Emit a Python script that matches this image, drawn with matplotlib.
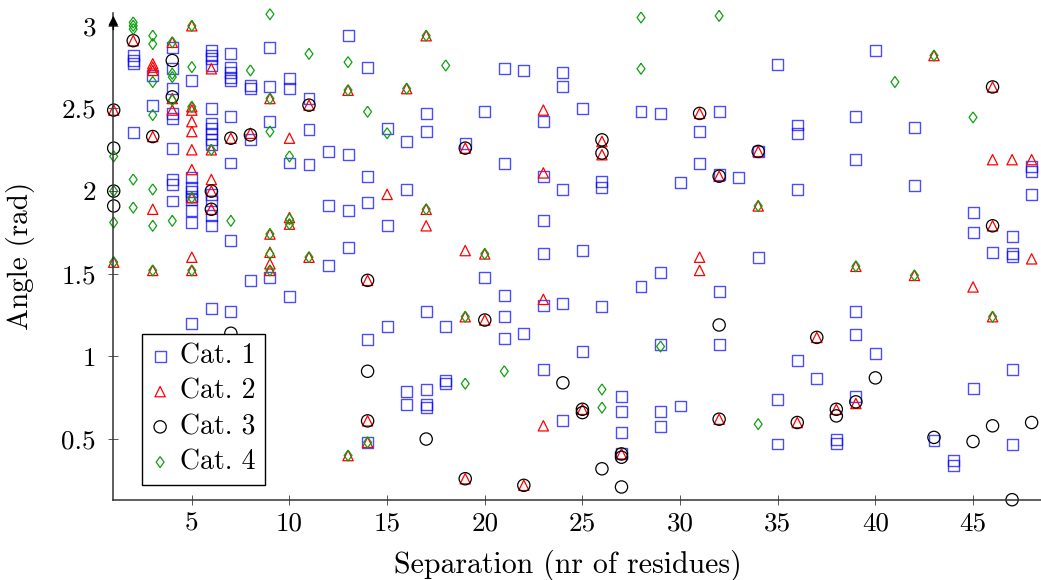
import matplotlib.pyplot as plt

plt.rcParams['font.family'] = 'cmr10'
plt.rcParams['mathtext.fontset'] = 'cm'
plt.rcParams['axes.formatter.use_mathtext'] = True

# Cat. 1 (squares)
cat1_sep = [2, 2, 2, 2,
            3, 3,
            4, 4, 4, 4, 4, 4, 4, 4, 4,
            5, 5, 5, 5, 5, 5, 5, 5, 5,
            6, 6, 6, 6, 6, 6, 6, 6, 6, 6, 6, 6, 6, 6, 6,
            7, 7, 7, 7, 7, 7, 7, 7, 7,
            8, 8, 8, 8,
            9, 9, 9, 9,
            10, 10, 10, 10,
            11, 11, 11,
            12, 12, 12,
            13, 13, 13, 13,
            14, 14, 14, 14, 14,
            15, 15, 15,
            16, 16, 16, 16,
            17, 17, 17, 17, 17, 17,
            18, 18, 18,
            19,
            20, 20,
            21, 21, 21, 21, 21,
            22, 22,
            23, 23, 23, 23, 23, 23,
            24, 24, 24, 24, 24,
            25, 25, 25,
            26, 26, 26,
            27, 27, 27, 27,
            28, 28,
            29, 29, 29, 29, 29,
            30, 30,
            31, 31,
            32, 32, 32, 32,
            33,
            34, 34,
            35, 35, 35,
            36, 36, 36, 36,
            37,
            38, 38,
            39, 39, 39, 39, 39,
            40, 40,
            42, 42,
            43,
            44, 44,
            45, 45, 45,
            46,
            47, 47, 47, 47, 47,
            48, 48, 48]
cat1_ang = [2.82, 2.79, 2.77, 2.355,
            2.70, 2.52,
            2.87, 2.74, 2.62, 2.47, 2.44, 2.26, 2.07, 2.04, 1.94,
            2.67, 2.08, 2.02, 2.0, 1.97, 1.95, 1.88, 1.81, 1.20,
            2.85, 2.82, 2.80, 2.76, 2.50, 2.41, 2.38, 2.35, 2.31, 2.28, 1.98, 1.94, 1.85, 1.79, 1.29,
            2.83, 2.75, 2.72, 2.69, 2.67, 2.45, 2.17, 1.70, 1.27,
            2.64, 2.62, 2.31, 1.46,
            2.87, 2.63, 2.42, 1.48,
            2.68, 2.62, 2.17, 1.36,
            2.56, 2.37, 2.16,
            2.24, 1.91, 1.55,
            2.94, 2.22, 1.88, 1.66,
            2.75, 2.09, 1.93, 1.10, 0.48,
            2.38, 1.79, 1.18,
            2.30, 2.01, 0.79, 0.71,
            2.47, 2.36, 1.27, 0.80, 0.71, 0.69,
            1.18, 0.855, 0.835,
            2.29,
            2.48, 1.48,
            2.74, 2.165, 1.37, 1.24, 1.11,
            2.73, 1.14,
            2.42, 2.09, 1.82, 1.62, 1.31, 0.92,
            2.72, 2.63, 2.01, 1.32, 0.61,
            2.50, 1.64, 1.03,
            2.06, 2.02, 1.30,
            0.76, 0.665, 0.54, 0.41,
            2.48, 1.42,
            2.47, 1.51, 1.07, 0.665, 0.575,
            2.05, 0.70,
            2.36, 2.165,
            2.48, 2.10, 1.39, 1.07,
            2.08,
            2.24, 1.60,
            2.765, 0.74, 0.47,
            2.40, 2.35, 2.01, 0.975,
            0.865,
            0.50, 0.475,
            2.45, 2.19, 1.27, 1.13, 0.76,
            2.85, 1.02,
            2.385, 2.035,
            0.49,
            0.37, 0.34,
            1.87, 1.75, 0.805,
            1.63,
            1.725, 1.625, 1.605, 0.92, 0.466,
            2.15, 2.12, 1.98]

# Cat. 2 (triangles)
cat2_sep = [1, 1, 2, 3, 3, 3, 3, 3, 3, 4, 4, 4,
            5, 5, 5, 5, 5, 5, 5, 5, 5, 5,
            6, 6, 6, 6, 6, 7, 8, 9, 9, 9, 9, 9, 10, 10, 10, 11, 11,
            13, 13, 14, 14, 14, 15, 16, 17, 17, 17, 19, 19, 19, 19,
            20, 20, 22, 23, 23, 23, 23, 25, 26, 26, 27, 31, 31, 31,
            32, 32, 34, 34, 36, 37, 38, 39, 39, 42, 43, 45,
            46, 46, 46, 46, 47, 48, 48]
cat2_ang = [2.49, 1.57, 2.91, 2.77, 2.75, 2.73, 2.33, 1.89, 1.52, 2.90, 2.56, 2.49,
            3.0, 2.51, 2.49, 2.42, 2.36, 2.25, 2.13, 1.96, 1.60, 1.52,
            2.74, 2.25, 2.07, 2.0, 1.89, 2.32, 2.35, 2.56, 1.74, 1.63, 1.56, 1.52, 2.32, 1.84, 1.80, 2.52, 1.60,
            2.61, 0.40, 1.46, 0.61, 0.48, 1.98, 2.62, 2.94, 1.89, 1.79, 2.26, 1.64, 1.24, 0.26,
            1.62, 1.22, 0.22, 2.49, 2.11, 1.345, 0.58, 0.68, 2.30, 2.22, 0.41, 2.47, 1.60, 1.52,
            2.09, 0.62, 2.24, 1.91, 0.60, 1.115, 0.68, 1.545, 0.715, 1.49, 2.82, 1.42,
            2.63, 2.19, 1.79, 1.24, 2.19, 2.19, 1.59]

# Cat. 3 (circles)
cat3_sep = [1, 1, 1, 1, 2, 3, 4, 4, 6, 6, 7, 7, 8, 11, 14, 14, 14, 17, 19, 19,
            20, 22, 24, 25, 25, 26, 26, 26, 27, 27, 27, 31, 32, 32, 32, 34,
            36, 37, 38, 38, 39, 40, 43, 45, 46, 46, 46, 47, 48]
cat3_ang = [2.49, 2.26, 2.0, 1.91, 2.91, 2.33, 2.79, 2.57, 2.0, 1.89, 2.32, 1.14, 2.34, 2.52, 1.46, 0.91, 0.61, 0.50, 2.26, 0.26,
            1.22, 0.22, 0.84, 0.68, 0.66, 2.31, 2.23, 0.32, 0.41, 0.39, 0.21, 2.47, 2.09, 1.19, 0.62, 2.24,
            0.60, 1.115, 0.68, 0.64, 0.725, 0.87, 0.51, 0.485, 2.63, 1.79, 0.58, 0.133, 0.60]

# Cat. 4 (diamonds)
cat4_sep = [1, 1, 1, 1, 2, 2, 2, 2, 2, 3, 3, 3, 3, 3, 3, 3, 4, 4, 4, 4, 4,
            5, 5, 5, 5, 5, 6, 7, 8, 9, 9, 9, 9, 9, 9, 10, 10, 10, 11, 11,
            13, 13, 13, 14, 14, 15, 16, 17, 17, 18, 19, 19, 20, 21, 26, 26,
            28, 28, 29, 32, 34, 34, 39, 41, 42, 43, 45, 46]
cat4_ang = [2.21, 2.0, 1.81, 1.57, 3.02, 3.0, 2.98, 2.07, 1.90, 2.94, 2.89, 2.66, 2.46, 2.01, 1.79, 1.52, 2.90, 2.71, 2.69, 2.55, 1.82,
            3.0, 2.75, 2.51, 1.96, 1.52, 2.25, 1.82, 2.73, 3.07, 2.56, 2.36, 1.74, 1.62, 1.52, 2.21, 1.83, 1.80, 2.83, 1.60,
            2.78, 2.61, 0.40, 2.48, 0.48, 2.35, 2.62, 2.94, 1.89, 2.76, 1.24, 0.835, 1.62, 0.91, 0.80, 0.69,
            3.05, 2.74, 1.06, 3.06, 1.91, 0.59, 1.545, 2.66, 1.49, 2.82, 2.446, 1.24]

labels = ['Cat. 1', 'Cat. 2', 'Cat. 3', 'Cat. 4']
xticks = [5, 10, 15, 20, 25, 30, 35, 40, 45]
yticks = [0.5, 1, 1.5, 2, 2.5, 3]
ytick_labels = ['0.5', '1', '1.5', '2', '2.5', '3']

diamond = [(0, 1), (0.72, 0), (0, -1), (-0.72, 0), (0, 1)]

fig = plt.figure(figsize=(10.41, 5.80), dpi=100)
ax = fig.add_axes([113.3 / 1041, 80.3 / 580, (1041 - 113.3) / 1041, 486.8 / 580])

ax.scatter(cat1_sep, cat1_ang, s=62, marker='s', facecolors='none',
           edgecolors='blue', alpha=0.7, linewidths=1.0, label=labels[0], clip_on=False)
ax.scatter(cat2_sep, cat2_ang, s=55, marker='^', facecolors='none',
           edgecolors='red', linewidths=0.9, label=labels[1], clip_on=False)
ax.scatter(cat3_sep, cat3_ang, s=78, marker='o', facecolors='none',
           edgecolors='black', linewidths=0.9, label=labels[2], clip_on=False)
ax.scatter(cat4_sep, cat4_ang, s=62, marker=diamond, facecolors='none',
           edgecolors='#10a010', linewidths=0.9, label=labels[3], clip_on=False)

ax.set_xlim(0.98, 48.48)
ax.set_ylim(0.133, 3.078)

ax.spines['top'].set_visible(False)
ax.spines['right'].set_visible(False)
for side in ['left', 'bottom']:
    ax.spines[side].set_color('#333333')
    ax.spines[side].set_linewidth(1.1)

ax.annotate('', xy=(0, 1.0), xytext=(0, 0.96), xycoords='axes fraction',
            textcoords='axes fraction', annotation_clip=False,
            arrowprops=dict(arrowstyle='-|>', color='black', lw=1.1, mutation_scale=14))

ax.set_xticks(xticks)
ax.set_xticklabels([str(t) for t in xticks])
ax.set_yticks(yticks)
ax.set_yticklabels(ytick_labels)
ax.tick_params(axis='both', direction='inout', length=7, width=0.7,
               color='#555555', labelsize=19.5)
ax.tick_params(axis='x', pad=5)
ax.tick_params(axis='y', pad=9)

ax.set_xlabel('Separation (nr of residues)', fontsize=21.5)
ax.set_ylabel('Angle (rad)', fontsize=21)
ax.xaxis.set_label_coords(0.49, -0.102)
ax.yaxis.set_label_coords(-0.084, 0.5)

leg = ax.legend(loc='lower left', bbox_to_anchor=(0.031, 0.030), borderaxespad=0,
                fontsize=20, frameon=True, fancybox=False, framealpha=1,
                edgecolor='black', handlelength=0.6, handletextpad=0.4,
                borderpad=0.35, labelspacing=0.32)
leg.get_frame().set_linewidth(1.0)
leg.set_zorder(5)

fig.savefig('out.png', dpi=100)
